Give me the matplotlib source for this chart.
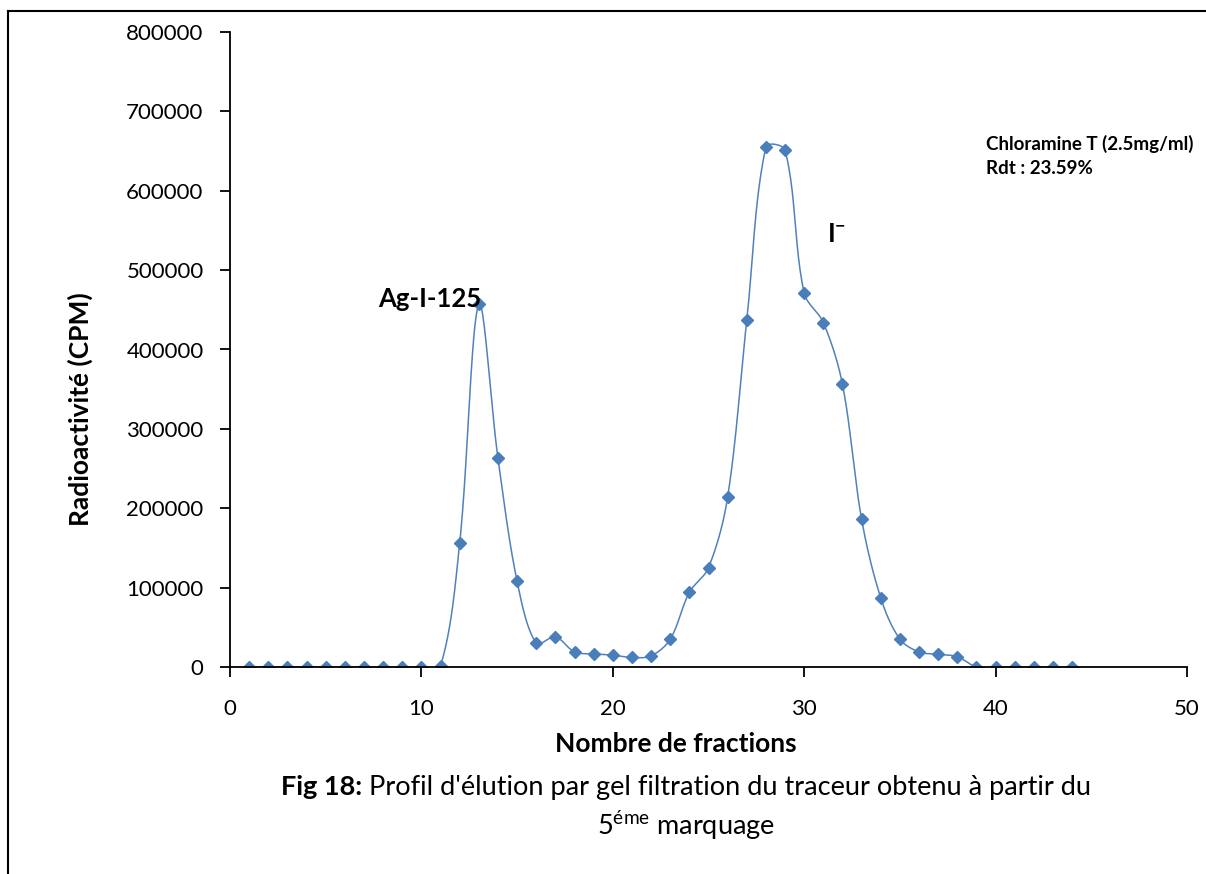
import numpy as np
import matplotlib
matplotlib.use("Agg")
import matplotlib.pyplot as plt
from matplotlib.lines import Line2D

plt.rcParams['font.family'] = ['Lato', 'DejaVu Sans']
plt.rcParams['mathtext.fontset'] = 'custom'
plt.rcParams['mathtext.rm'] = 'Lato'
plt.rcParams['mathtext.it'] = 'Lato:italic'
plt.rcParams['mathtext.bf'] = 'Lato:bold'

# data
fractions = list(range(1, 45))
cpm = [0, 0, 0, 0, 0, 0, 0, 0, 0, 0,
       1500, 156000, 457000, 263000, 108000, 30000, 38000, 19000, 16500, 15000,
       12000, 14000, 35000, 94000, 125000, 214000, 437000, 655000, 651000, 471000,
       434000, 356000, 186000, 87000, 35000, 19000, 16000, 13000, 0, 0,
       0, 0, 0, 0]
x_ticks = [0, 10, 20, 30, 40, 50]
y_ticks = [0, 100000, 200000, 300000, 400000, 500000, 600000, 700000, 800000]

W, H = 1206, 874


def smooth(x, y, sx, sy, n=24):
    # spreadsheet-like smoothed line: bezier segments, control points
    # scaled by neighbouring chord lengths measured on screen
    x = np.asarray(x, float)
    y = np.asarray(y, float)
    px = np.concatenate([[x[0]], x, [x[-1]]])
    py = np.concatenate([[y[0]], y, [y[-1]]])
    P = np.column_stack([px, py])
    S = np.array([sx, sy])

    def dist(a, b):
        return max(np.hypot(*((a - b) * S)), 1e-9)

    t = np.linspace(0, 1, n, endpoint=False)[:, None]
    out = []
    for i in range(1, len(P) - 2):
        p0, p1, p2, p3 = P[i - 1], P[i], P[i + 1], P[i + 2]
        d01, d12, d23 = dist(p0, p1), dist(p1, p2), dist(p2, p3)
        c1 = p1 + (p2 - p0) * d12 / (d01 + d12) / 3
        c2 = p2 - (p3 - p1) * d12 / (d12 + d23) / 3
        b = (1 - t) ** 3 * p1 + 3 * (1 - t) ** 2 * t * c1 + 3 * (1 - t) * t ** 2 * c2 + t ** 3 * p2
        out.append(b)
    out.append(P[-2][None, :])
    out = np.vstack(out)
    return out[:, 0], out[:, 1]


fig = plt.figure(figsize=(W / 100, H / 100), dpi=100)
ax = fig.add_axes([230 / W, 1 - 667 / H, (1187 - 230) / W, (667 - 32) / H])

# pixel per data unit, for the smoothing
sx_px = (1187 - 230) / 50
sy_px = (667 - 32) / 800000
lx, ly = smooth(fractions, cpm, sx_px, sy_px)
ax.plot(lx, ly, color='#4F81BD', lw=1.1)
ax.plot(fractions, cpm, ls='none', marker='D', ms=6, color='#4A7EBB')

ax.set_xlim(0, 50)
ax.set_ylim(0, 800000)
ax.set_xticks(x_ticks)
ax.set_yticks(y_ticks)
ax.set_yticklabels([str(v) for v in y_ticks])
for s in ('top', 'right'):
    ax.spines[s].set_visible(False)
for s in ('left', 'bottom'):
    ax.spines[s].set_linewidth(1.3)
ax.tick_params(axis='both', labelsize=16, length=7, width=1.3, direction='out')
ax.tick_params(axis='x', pad=16)
ax.tick_params(axis='y', pad=12)

fig.text(676 / W, 1 - 744 / H, 'Nombre de fractions', fontsize=19, fontweight='bold',
         ha='center', va='center')
fig.text(80 / W, 1 - 409 / H, 'Radioactivité (CPM)', fontsize=19, fontweight='bold',
         ha='center', va='center', rotation=90)

ax.text(13.15, 449000, 'Ag-I-125', fontsize=18.5, fontweight='bold', ha='right', va='bottom')
ax.text(31.2, 536000, r'I$^{\mathbf{-}}$', fontsize=18.5, fontweight='bold', ha='left', va='baseline')
ax.text(39.5, 644000, 'Chloramine T (2.5mg/ml)\nRdt : 23.59%', fontsize=13.5,
        fontweight='bold', ha='left', va='center', linespacing=1.45, clip_on=False)

# caption: bold "Fig 18:" followed by regular text, centred as one line
cap_bold = 'Fig 18:'
cap_rest = " Profil d'élution par gel filtration du traceur obtenu à partir du"
tb = fig.text(0, 1 - 787 / H, cap_bold, fontsize=19.5, fontweight='bold', ha='left', va='center')
tr = fig.text(0, 1 - 787 / H, cap_rest, fontsize=19.5, ha='left', va='center')
fig.canvas.draw()
r = fig.canvas.get_renderer()
wb = tb.get_window_extent(r).width
wr = tr.get_window_extent(r).width
x0 = 686 - (wb + wr) / 2
tb.set_x(x0 / W)
tr.set_x((x0 + wb) / W)
fig.text(686 / W, 1 - 826 / H, r"5$^{\mathrm{éme}}$ marquage", fontsize=19.5, ha='center', va='center')

# outer frame of the pasted chart
fig.add_artist(Line2D([8 / W, 8 / W], [0, 1 - 11 / H], color='black', lw=1.5,
                      transform=fig.transFigure))
fig.add_artist(Line2D([8 / W, 1], [1 - 11 / H, 1 - 11 / H], color='black', lw=1.5,
                      transform=fig.transFigure))

fig.savefig('out.png', dpi=100)
